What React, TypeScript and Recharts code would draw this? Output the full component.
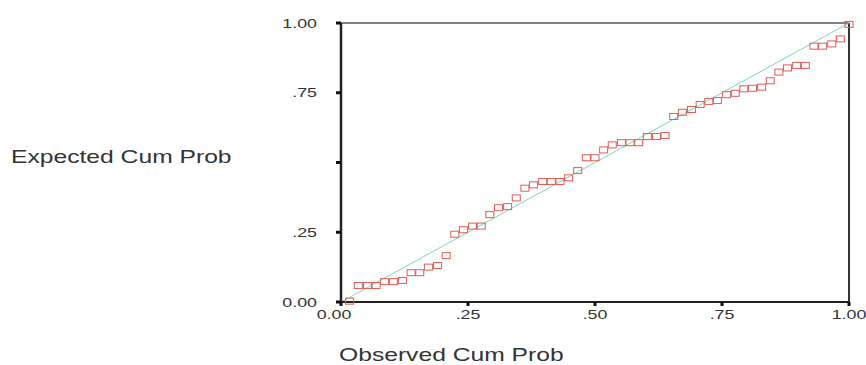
import {
  ScatterChart,
  Scatter,
  XAxis,
  YAxis,
  ReferenceLine,
  Label,
} from 'recharts'

// observed cumulative probability (x) of each case
const observed = [
  0.017, 0.034, 0.052, 0.069, 0.086, 0.103, 0.121, 0.138, 0.155, 0.172,
  0.19, 0.207, 0.224, 0.241, 0.259, 0.276, 0.293, 0.31, 0.328, 0.345,
  0.362, 0.379, 0.397, 0.414, 0.431, 0.448, 0.466, 0.483, 0.5, 0.517,
  0.534, 0.552, 0.569, 0.586, 0.603, 0.621, 0.638, 0.655, 0.672, 0.69,
  0.707, 0.724, 0.741, 0.759, 0.776, 0.793, 0.81, 0.828, 0.845, 0.862,
  0.879, 0.897, 0.914, 0.931, 0.948, 0.966, 0.983, 1.0,
]

// expected cumulative probability (y)
const expected = [
  0.003, 0.059, 0.059, 0.059, 0.073, 0.073, 0.077, 0.105, 0.105, 0.125,
  0.131, 0.166, 0.243, 0.259, 0.272, 0.272, 0.313, 0.338, 0.342, 0.373,
  0.408, 0.42, 0.432, 0.432, 0.432, 0.445, 0.471, 0.517, 0.517, 0.545,
  0.563, 0.571, 0.571, 0.571, 0.593, 0.593, 0.597, 0.665, 0.68, 0.69,
  0.708, 0.719, 0.722, 0.743, 0.748, 0.764, 0.766, 0.77, 0.793, 0.824,
  0.839, 0.848, 0.848, 0.917, 0.917, 0.925, 0.943, 0.995,
]

const ticks = [0, 0.25, 0.5, 0.75, 1]
const xTickLabels = ['0.00', '.25', '.50', '.75', '1.00']
const yTickLabels = ['0.00', '.25', '', '.75', '1.00']

const points = observed.map((x, i) => ({ x, y: expected[i] }))

const FONT = '"Liberation Sans", Arial, sans-serif'
const STRETCH = 1.37

function YTick({ x, y, index }: any) {
  return (
    <text
      transform={`translate(${x},${y}) scale(${STRETCH},1)`}
      textAnchor="end"
      dy="0.35em"
      fontFamily={FONT}
      fontSize={13}
      fill="#333"
    >
      {yTickLabels[index]}
    </text>
  )
}

function XTick({ x, y, index }: any) {
  const shift = index === 0 ? -7 : 0
  return (
    <text
      transform={`translate(${x + shift},${y}) scale(${STRETCH},1)`}
      textAnchor="middle"
      dy="0.71em"
      fontFamily={FONT}
      fontSize={13}
      fill="#333"
    >
      {xTickLabels[index]}
    </text>
  )
}

function Box({ cx, cy }: any) {
  return <rect x={cx - 4} y={cy - 3} width={8} height={6} fill="none" stroke="#de5d55" strokeWidth={1} />
}

function AxisTitle({ x, y, text }: { x: number; y: number; text: string }) {
  return (
    <text
      transform={`translate(${x},${y}) scale(${STRETCH},1)`}
      fontFamily={FONT}
      fontSize={18}
      fill="#333"
    >
      {text}
    </text>
  )
}

export default function App() {
  return (
    <div style={{ position: 'absolute', left: 0, top: 0, background: '#fff' }}>
      <ScatterChart width={866} height={365} margin={{ top: 23, right: 17, left: 0, bottom: 0 }}>
        <XAxis
          type="number"
          dataKey="x"
          domain={[0, 1]}
          ticks={ticks}
          height={63}
          tick={<XTick />}
          tickSize={4}
          tickMargin={4}
          tickLine={{ stroke: '#111', strokeWidth: 3 }}
          axisLine={{ stroke: '#222', strokeWidth: 2 }}
        >
          <Label content={() => <AxisTitle x={339} y={361} text="Observed Cum Prob" />} />
        </XAxis>
        <YAxis
          type="number"
          dataKey="y"
          domain={[0, 1]}
          ticks={ticks}
          width={341}
          tick={<YTick />}
          tickSize={5}
          tickMargin={19}
          tickLine={{ stroke: '#111', strokeWidth: 3 }}
          axisLine={{ stroke: '#222', strokeWidth: 2.5 }}
        >
          <Label content={() => <AxisTitle x={11} y={163} text="Expected Cum Prob" />} />
        </YAxis>
        <ReferenceLine y={1} stroke="#555" strokeWidth={1.5} />
        <ReferenceLine x={1} stroke="#333" strokeWidth={2} />
        <ReferenceLine
          segment={[{ x: 0, y: 0 }, { x: 1, y: 1 }]}
          stroke="#7dd6b6"
          strokeWidth={1}
        />
        <Scatter data={points} shape={<Box />} isAnimationActive={false} />
      </ScatterChart>
    </div>
  )
}
